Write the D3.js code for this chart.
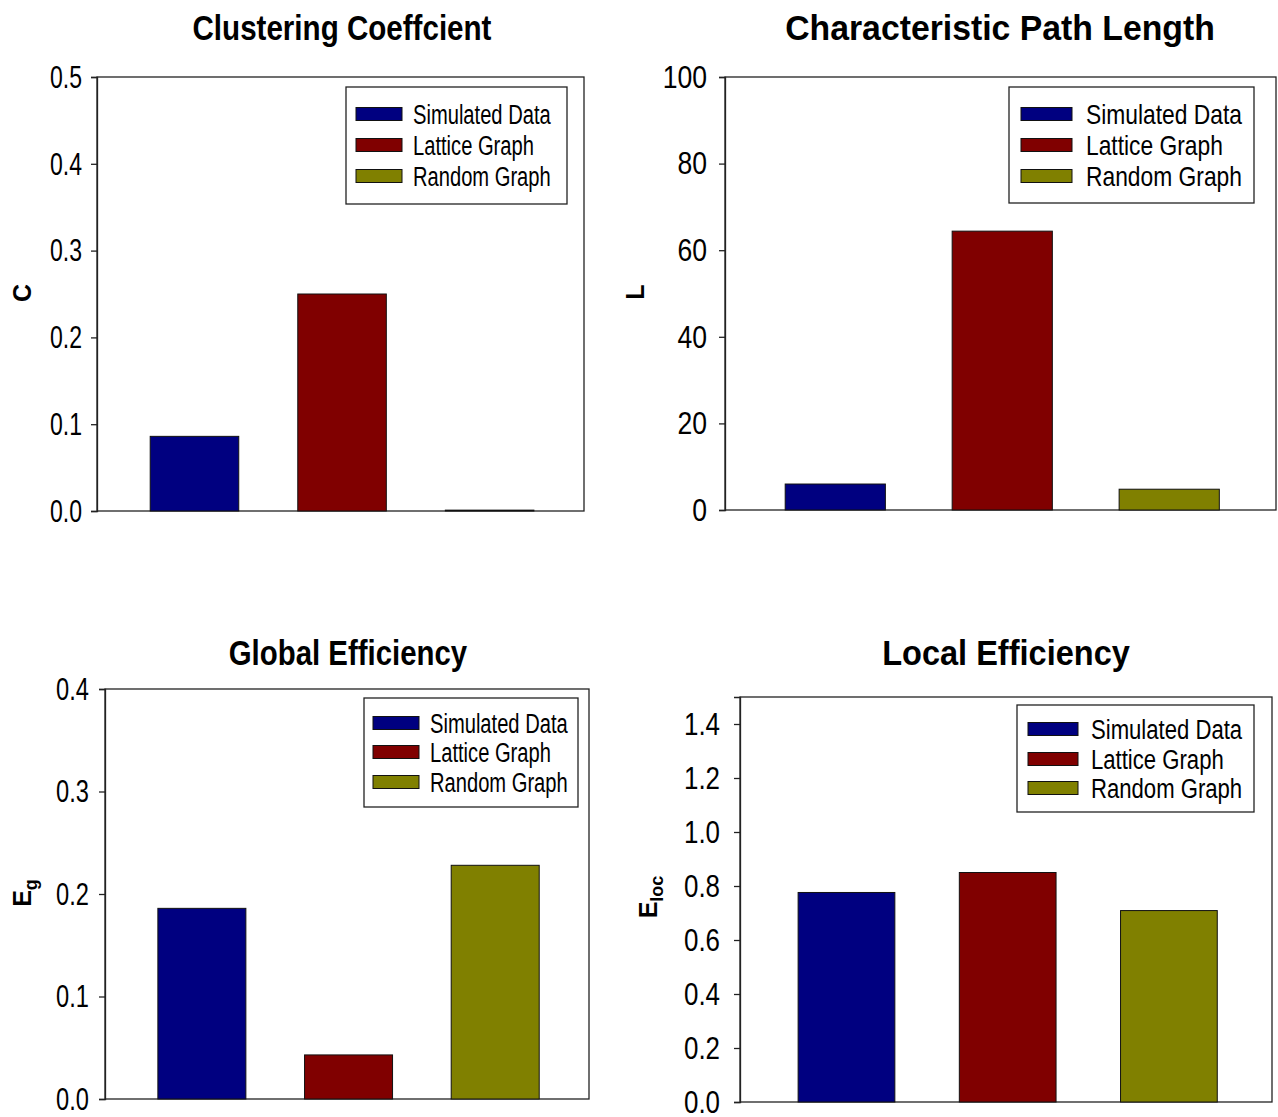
<!DOCTYPE html>
<html>
<head>
<meta charset="utf-8">
<script src="https://cdn.jsdelivr.net/npm/d3@7"></script>
<style>
  html, body { margin: 0; padding: 0; background: #fff; }
  svg { display: block; }
  text { font-family: "Liberation Sans", Arial, Helvetica, sans-serif; }
</style>
</head>
<body>
<svg id="chart" width="1278" height="1117"></svg>
<script>
// ---------------- DATA ----------------
const categories = ["Simulated Data", "Lattice Graph", "Random Graph"];
const colors = ["#000080", "#800000", "#808000"];

const clusteringValues = [0.086, 0.250, 0.001];
const pathLengthValues = [6.0, 64.4, 4.8];
const globalEffValues = [0.186, 0.043, 0.228];
const localEffValues = [0.776, 0.850, 0.709];

const clusteringTicks = [0.0, 0.1, 0.2, 0.3, 0.4, 0.5];
const pathLengthTicks = [0, 20, 40, 60, 80, 100];
const globalEffTicks = [0.0, 0.1, 0.2, 0.3, 0.4];
const localEffTicks = [0.0, 0.2, 0.4, 0.6, 0.8, 1.0, 1.2, 1.4];

const titles = ["Clustering Coeffcient", "Characteristic Path Length", "Global Efficiency", "Local Efficiency"];

// ---------------- LAYOUT ----------------
const panels = [
  { values: clusteringValues, ticks: clusteringTicks, domain: [0, 0.5], fmt: d3.format(".1f"),
    title: titles[0], titleX: 342, titleY: 40, titleSx: 0.845, ylab: "C", sub: null, ylabX: 31, ylabY: 293,
    x0: 97, x1: 584, y0: 77, y1: 511, tickFont: 32, tickSx: 0.72, tickOff: 15, legFont: 28, legSx: 0.72,
    leg: { x: 346, y: 87, w: 221, h: 117, sw: 46, sx: 10, tx: 67, rows: [27, 58, 89] } },
  { values: pathLengthValues, ticks: pathLengthTicks, domain: [0, 100], fmt: d3.format("d"),
    title: titles[1], titleX: 1000, titleY: 40, titleSx: 0.965, ylab: "L", sub: null, ylabX: 644, ylabY: 292,
    x0: 725, x1: 1276, y0: 77, y1: 510, tickFont: 32, tickSx: 0.83, tickOff: 18, legFont: 28, legSx: 0.815,
    leg: { x: 1009, y: 87, w: 245, h: 116, sw: 51, sx: 12, tx: 77, rows: [27, 58, 89] } },
  { values: globalEffValues, ticks: globalEffTicks, domain: [0, 0.4], fmt: d3.format(".1f"),
    title: titles[2], titleX: 348, titleY: 665, titleSx: 0.84, ylab: "E", sub: "g", ylabX: 31, ylabY: 893,
    x0: 105, x1: 589, y0: 689, y1: 1099, tickFont: 32, tickSx: 0.74, tickOff: 16, legFont: 28, legSx: 0.72,
    leg: { x: 364, y: 698, w: 214, h: 109, sw: 46, sx: 9, tx: 66, rows: [25, 54, 84] } },
  { values: localEffValues, ticks: localEffTicks, domain: [0, 1.5], fmt: d3.format(".1f"),
    title: titles[3], titleX: 1006, titleY: 665, titleSx: 0.93, ylab: "E", sub: "loc", ylabX: 657, ylabY: 897,
    x0: 740, x1: 1272, y0: 697, y1: 1102, tickFont: 32, tickSx: 0.81, tickOff: 20, legFont: 28, legSx: 0.79,
    leg: { x: 1017, y: 705, w: 237, h: 107, sw: 50, sx: 11, tx: 74, rows: [24, 54, 83] } }
];

const svg = d3.select("#chart");

panels.forEach(p => {
  const g = svg.append("g");
  const x = d3.scaleBand().domain(categories).range([p.x0, p.x1])
    .paddingInner(0.4).paddingOuter(0.35).align(0.515);
  const y = d3.scaleLinear().domain(p.domain).range([p.y1, p.y0]);

  // frame
  g.append("rect")
    .attr("x", p.x0).attr("y", p.y0)
    .attr("width", p.x1 - p.x0).attr("height", p.y1 - p.y0)
    .attr("fill", "none").attr("stroke", "#222").attr("stroke-width", 1.3);

  // bars
  g.selectAll("rect.bar").data(p.values).join("rect")
    .attr("class", "bar")
    .attr("x", (d, i) => x(categories[i]))
    .attr("width", x.bandwidth())
    .attr("y", d => y(d))
    .attr("height", d => y(0) - y(d))
    .attr("fill", (d, i) => colors[i])
    .attr("stroke", "#111").attr("stroke-width", 1);

  // y axis
  const ax = g.append("g")
    .attr("transform", `translate(${p.x0},0)`)
    .call(d3.axisLeft(y).tickValues(p.ticks).tickFormat(p.fmt).tickSize(6).tickPadding(p.tickOff - 6));
  ax.select(".domain").attr("stroke", "#222").attr("stroke-width", 1.3);
  ax.selectAll(".tick line").attr("stroke", "#222").attr("stroke-width", 1.3);
  ax.selectAll(".tick text")
    .attr("x", -p.tickOff / p.tickSx)
    .attr("transform", `scale(${p.tickSx},1)`)
    .attr("font-family", "'Liberation Sans', Arial, sans-serif")
    .attr("font-size", p.tickFont)
    .attr("fill", "#000");

  // title
  g.append("text")
    .attr("x", p.titleX / p.titleSx).attr("y", p.titleY)
    .attr("transform", `scale(${p.titleSx},1)`)
    .attr("text-anchor", "middle")
    .attr("font-weight", "bold").attr("font-size", 35)
    .attr("fill", "#000")
    .text(p.title);

  // y label
  const yl = g.append("text")
    .attr("transform", `translate(${p.ylabX},${p.ylabY}) rotate(-90)`)
    .attr("text-anchor", "middle")
    .attr("font-weight", "bold").attr("font-size", 25)
    .attr("fill", "#000");
  yl.append("tspan").text(p.ylab);
  if (p.sub) {
    yl.append("tspan").attr("font-size", 18).attr("dy", 6).text(p.sub);
  }

  // legend
  const L = p.leg;
  const lg = g.append("g").attr("transform", `translate(${L.x},${L.y})`);
  lg.append("rect").attr("width", L.w).attr("height", L.h)
    .attr("fill", "#fff").attr("stroke", "#222").attr("stroke-width", 1.3);
  categories.forEach((c, i) => {
    lg.append("rect")
      .attr("x", L.sx).attr("y", L.rows[i] - 6.5)
      .attr("width", L.sw).attr("height", 13)
      .attr("fill", colors[i]).attr("stroke", "#111").attr("stroke-width", 1);
    lg.append("text")
      .attr("x", L.tx / p.legSx).attr("y", L.rows[i])
      .attr("transform", `scale(${p.legSx},1)`)
      .attr("dy", "0.36em")
      .attr("font-size", p.legFont)
      .attr("fill", "#000")
      .text(c);
  });
});
</script>
</body>
</html>
